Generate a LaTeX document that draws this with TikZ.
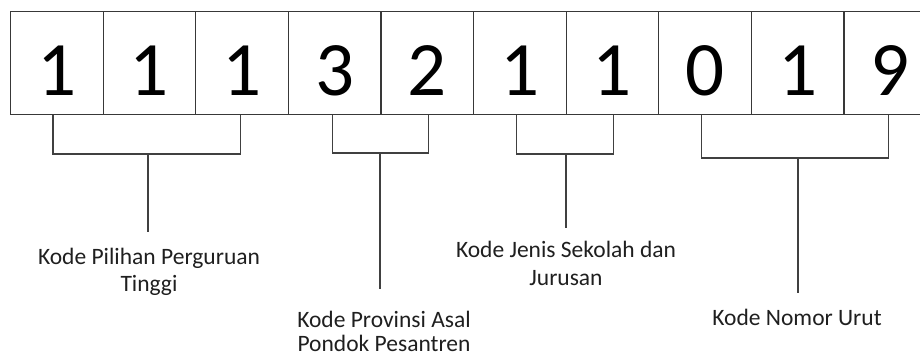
\documentclass[tikz,border=0pt]{standalone}
\usepackage{fontspec}
\setmainfont{Carlito}
\begin{document}
\begin{tikzpicture}[x=1pt,y=-1pt,
  cell/.style={draw=black!78, line width=1.2pt, minimum width=92.6pt,
    minimum height=103pt, inner sep=0pt, anchor=north west},
  digit/.style={font=\fontsize{77}{77}\selectfont, anchor=base, inner sep=0pt},
  bracket/.style={draw=black!75, line width=1.2pt},
  caption/.style={font=\fontsize{23.5}{27.5}\selectfont, align=center,
    anchor=base, inner sep=0pt, text=black!88}]
\useasboundingbox (0,0) rectangle (920,354);
\clip (0,0) rectangle (920,354);

% row of ten digit cells
\foreach \d [count=\i] in {1,1,1,3,2,1,1,0,1,9} {
  \node[cell] (c\i) at ({10+92.6*(\i-1)},11) {};
  \node[digit] (n\i) at ([yshift=20pt]c\i.south) {\d};
}

% junction points under each group and the free ends of the stems
\coordinate (j1) at (148,154);  \coordinate (s1) at (148,232);
\coordinate (j2) at (380,153);  \coordinate (s2) at (380,289);
\coordinate (j3) at (566,154);  \coordinate (s3) at (566,228);
\coordinate (j4) at (798,158);  \coordinate (s4) at (798,293);

% group brackets
\draw[bracket] ([xshift=-4pt]c1.south) |- (j1) -| ([xshift=-1.5pt]c3.south);
\draw[bracket] ([xshift=-2pt]c4.south) |- (j2) -| ([xshift=1.3pt]c5.south);
\draw[bracket] ([xshift=-3.3pt]c6.south) |- (j3) -| ([xshift=1pt]c7.south);
\draw[bracket] ([xshift=-4pt]c8.south) |- (j4) -| ([xshift=-2pt]c10.south);

% stems
\draw[bracket] (j1) -- (s1);
\draw[bracket] (j2) -- (s2);
\draw[bracket] (j3) -- (s3);
\draw[bracket] (j4) -- (s4);

% captions (the base anchor sits on the last line)
\node[caption] (t1) at (149,291.3) {Kode Pilihan Perguruan\\[-0.5pt]Tinggi};
\node[caption] (t2) at (384,351) {Kode Provinsi Asal\\[-3.8pt]Pondok Pesantren};
\node[caption] (t3) at (566,285.2) {Kode Jenis Sekolah dan\\Jurusan};
\node[caption] (t4) at (797,325.7) {Kode Nomor Urut};
\end{tikzpicture}
\end{document}
